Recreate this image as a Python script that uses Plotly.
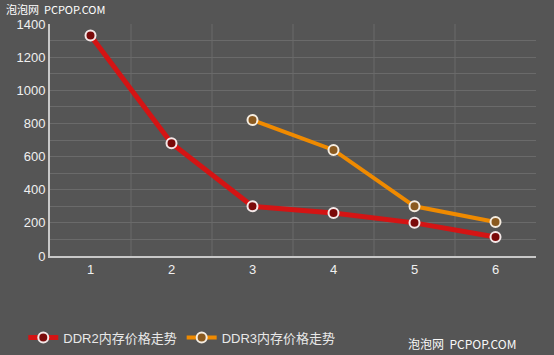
import plotly.graph_objects as go

categories = [1, 2, 3, 4, 5, 6]
ddr2_values = [1330, 680, 300, 260, 200, 115]
ddr3_x = [3, 4, 5, 6]
ddr3_values = [820, 640, 300, 205]
y_ticks = [0, 200, 400, 600, 800, 1000, 1200, 1400]

fig = go.Figure()
fig.add_trace(go.Scatter(
    x=categories, y=ddr2_values, mode="lines+markers", name="DDR2内存价格走势",
    line=dict(color="#d41414", width=5),
    marker=dict(size=10, color="#7a0a0a", line=dict(color="#f4e8e8", width=2)),
))
fig.add_trace(go.Scatter(
    x=ddr3_x, y=ddr3_values, mode="lines+markers", name="DDR3内存价格走势",
    line=dict(color="#ef8a00", width=4),
    marker=dict(size=10, color="#8a5a20", line=dict(color="#f4ece0", width=2)),
))

fig.update_layout(
    width=554, height=355,
    paper_bgcolor="#555555", plot_bgcolor="#555555",
    margin=dict(l=50, r=18, t=24, b=99, autoexpand=False),
    font=dict(family="Liberation Sans, Arial, Noto Sans CJK SC", color="#f0f0f0", size=13),
    showlegend=True,
    legend=dict(orientation="h", x=-0.055, y=-0.287, xanchor="left", yanchor="top",
                font=dict(size=13, color="#e8e8e8", family="Liberation Sans, Noto Sans CJK SC"),
                bgcolor="rgba(0,0,0,0)", itemwidth=30, tracegroupgap=0),
    xaxis=dict(range=[0.5, 6.5], tickmode="array", tickvals=categories,
               ticktext=[str(c) for c in categories],
               showgrid=False, zeroline=False,
               showline=True, linecolor="#c8c8c8", linewidth=2,
               ticks="", ticklen=0),
    yaxis=dict(range=[0, 1400], tickmode="array", tickvals=y_ticks,
               showgrid=True, gridcolor="#6a6a6a", gridwidth=1,
               minor=dict(dtick=100, showgrid=True, gridcolor="#6a6a6a", gridwidth=1),
               zeroline=False, showline=True, linecolor="#c8c8c8", linewidth=2,
               ticks="", ticklen=0),
)

# vertical category separators
for b in [1.5, 2.5, 3.5, 4.5, 5.5]:
    fig.add_shape(type="line", xref="x", yref="paper", x0=b, x1=b, y0=0, y1=1,
                  line=dict(color="#6a6a6a", width=1), layer="below")

fig.add_annotation(text="泡泡网  PCPOP.COM", xref="paper", yref="paper", x=-0.093, y=1.104,
                   xanchor="left", yanchor="top", showarrow=False, borderpad=0,
                   font=dict(size=11, color="#ffffff", family="Noto Sans CJK SC, Liberation Sans"))
fig.add_annotation(text="泡泡网  PCPOP.COM", xref="paper", yref="paper", x=0.963, y=-0.375,
                   xanchor="right", yanchor="middle", showarrow=False,
                   font=dict(size=12, color="#f8f8f8", family="Noto Sans CJK SC, Liberation Sans"))

fig.write_html("out.html", config={"displayModeBar": False},
               post_script="document.body.style.margin='0';document.body.style.overflow='hidden';")
